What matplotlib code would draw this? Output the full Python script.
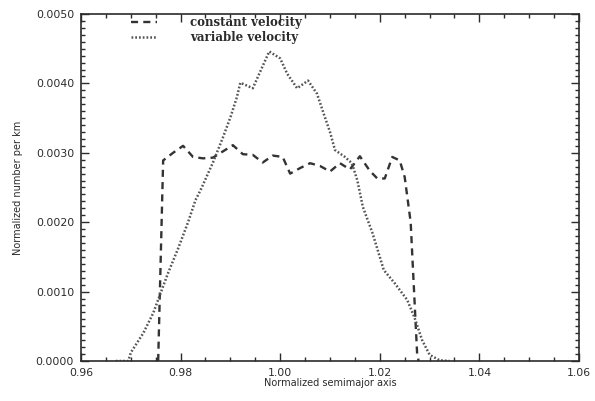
import matplotlib
matplotlib.use("Agg")
import matplotlib.pyplot as plt
from matplotlib.ticker import MultipleLocator

# constant velocity (dashed)
const_a = [0.9755, 0.9765, 0.9785, 0.9805, 0.9825, 0.9845, 0.9865, 0.9885,
           0.9905, 0.9925, 0.9945, 0.9965, 0.9985, 1.0005, 1.0020, 1.0040,
           1.0060, 1.0080, 1.0100, 1.0120, 1.0140, 1.0160, 1.0180, 1.0195,
           1.0210, 1.0225, 1.0240, 1.0250, 1.0262, 1.0275, 1.0278]
const_n = [0.0000, 0.00289, 0.00300, 0.00310, 0.00294, 0.00292, 0.00293, 0.00302,
           0.00311, 0.00298, 0.00297, 0.00286, 0.00296, 0.00294, 0.00270, 0.00278,
           0.00285, 0.00281, 0.00273, 0.00285, 0.00276, 0.00295, 0.00274, 0.00263,
           0.00263, 0.00294, 0.00289, 0.00265, 0.00200, 0.00010, 0.0000]

# variable velocity (dotted)
var_a = [0.9670, 0.9695, 0.9700, 0.9725, 0.9745, 0.9760, 0.9775, 0.9795,
         0.9815, 0.9830, 0.9840, 0.9865, 0.9885, 0.9900, 0.9913, 0.9920,
         0.9945, 0.9978, 1.0000, 1.0014, 1.0034, 1.0056, 1.0074, 1.0088,
         1.0100, 1.0110, 1.0130, 1.0144, 1.0155, 1.0166, 1.0185, 1.0200,
         1.0208, 1.0230, 1.0255, 1.0270, 1.0285, 1.0300, 1.0320, 1.0340]
var_n = [0.0000, 0.0000, 0.00012, 0.00040, 0.00069, 0.00098, 0.00127, 0.00162,
         0.00200, 0.00232, 0.00246, 0.00286, 0.00322, 0.00351, 0.00380, 0.00401,
         0.00393, 0.00446, 0.00436, 0.00414, 0.00393, 0.00404, 0.00385, 0.00355,
         0.00330, 0.00304, 0.00294, 0.00285, 0.00260, 0.00222, 0.00185, 0.00150,
         0.00131, 0.00112, 0.00088, 0.00062, 0.00030, 0.00009, 0.00001, 0.0000]

ink = "#2b2b2b"

fig = plt.figure(figsize=(5.95, 4.01), dpi=100)
ax = fig.add_axes([0.1361, 0.0998, 0.8370, 0.8653])

ax.plot(const_a, const_n, color="#333333", lw=1.7, linestyle=(0, (3.0, 2.2)),
        label="constant velocity")
ax.plot(var_a, var_n, color="#555555", lw=1.8, linestyle=(0, (0.7, 0.8)),
        label="variable velocity")

ax.set_xlim(0.96, 1.06)
ax.set_ylim(0.0, 0.005)
ax.xaxis.set_major_locator(MultipleLocator(0.02))
ax.xaxis.set_minor_locator(MultipleLocator(0.005))
ax.yaxis.set_major_locator(MultipleLocator(0.001))
ax.yaxis.set_minor_locator(MultipleLocator(0.0001))
ax.xaxis.set_major_formatter(plt.FuncFormatter(lambda v, p: f"{v:.2f}"))
ax.yaxis.set_major_formatter(plt.FuncFormatter(lambda v, p: f"{v:.4f}"))

ax.tick_params(which="both", direction="in", top=True, right=True,
               color=ink, width=1.0)
ax.tick_params(which="major", length=6, labelsize=7.8, labelcolor=ink, pad=5)
ax.tick_params(which="minor", length=3)
for s in ax.spines.values():
    s.set_linewidth(1.2)
    s.set_color(ink)

ax.set_xlabel("Normalized semimajor axis", fontsize=7, color=ink, labelpad=0)
ax.set_ylabel("Normalized number per km", fontsize=7, color=ink, labelpad=9)

leg = ax.legend(loc="upper left", bbox_to_anchor=(0.08, 1.025), frameon=False,
                handlelength=2.2, handletextpad=2.8, labelspacing=0.2,
                prop={"family": "DejaVu Serif", "weight": "bold", "size": 8.5})
for t in leg.get_texts():
    t.set_color(ink)

fig.savefig("out.png", dpi=100)
